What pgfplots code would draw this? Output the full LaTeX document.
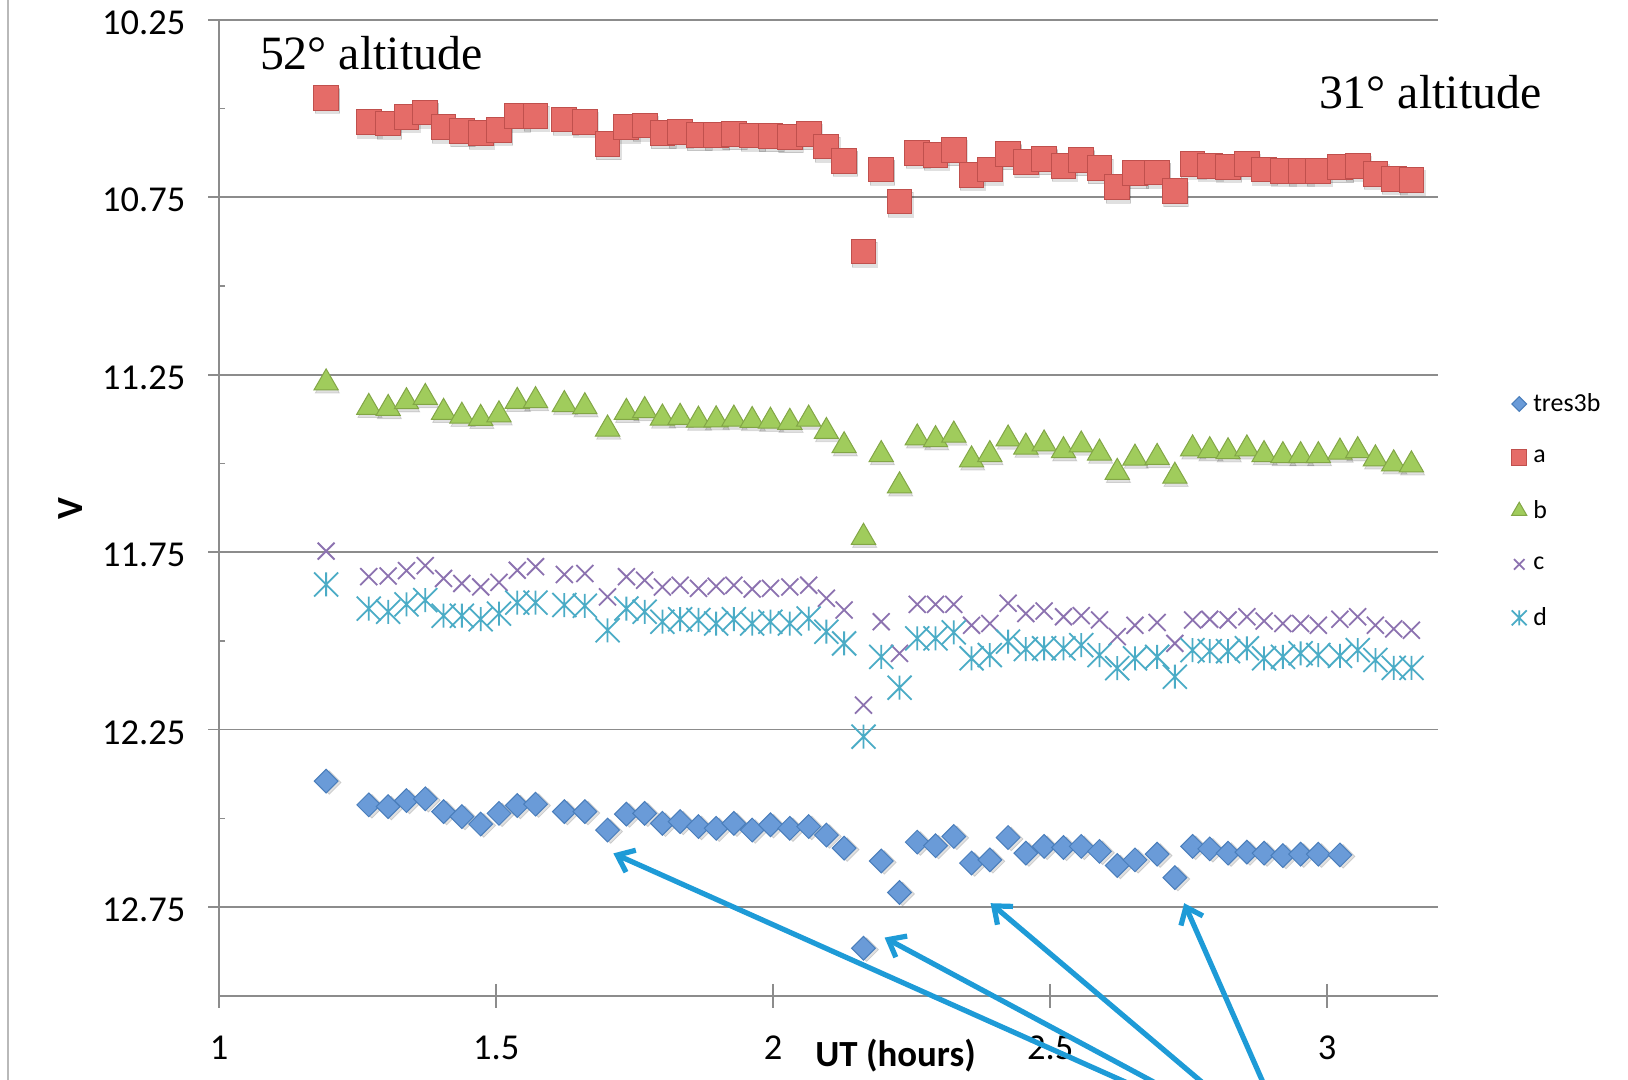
\documentclass[border=0pt]{standalone}
\usepackage{pgfplots}
\pgfplotsset{compat=1.18}
\usepackage{pgfplotstable}
\usepackage{fontspec}
\setmainfont{Carlito}
\newfontfamily\timesfont{Liberation Serif}
\usetikzlibrary{arrows.meta}

\definecolor{gridgray}{RGB}{140,140,140}
\definecolor{tresfill}{RGB}{106,155,216}
\definecolor{tresdraw}{RGB}{74,126,187}
\definecolor{afill}{RGB}{229,108,104}
\definecolor{adraw}{RGB}{192,80,77}
\definecolor{bfill}{RGB}{160,204,92}
\definecolor{bdraw}{RGB}{130,166,70}
\definecolor{cpurple}{RGB}{140,114,176}
\definecolor{dcyan}{RGB}{75,172,198}
\definecolor{arrowblue}{RGB}{30,155,215}

% six-spoke star: a cross with a vertical bar
\pgfdeclareplotmark{xstar}{%
  \pgfpathmoveto{\pgfqpoint{-\pgfplotmarksize}{-\pgfplotmarksize}}%
  \pgfpathlineto{\pgfqpoint{\pgfplotmarksize}{\pgfplotmarksize}}%
  \pgfpathmoveto{\pgfqpoint{-\pgfplotmarksize}{\pgfplotmarksize}}%
  \pgfpathlineto{\pgfqpoint{\pgfplotmarksize}{-\pgfplotmarksize}}%
  \pgfpathmoveto{\pgfqpoint{0pt}{-\pgfplotmarksize}}%
  \pgfpathlineto{\pgfqpoint{0pt}{\pgfplotmarksize}}%
  \pgfusepathqstroke}

% V magnitudes of the target (tres3b) and comparison stars a-d
\pgfplotstableread{
x      tres   a      b      c      d
1.193  12.395 10.470 11.273 11.747 11.841
1.270  12.462 10.539 11.342 11.819 11.909
1.305  12.467 10.542 11.345 11.817 11.918
1.338  12.450 10.523 11.326 11.802 11.897
1.372  12.445 10.511 11.314 11.788 11.885
1.405  12.481 10.553 11.356 11.824 11.929
1.438  12.495 10.564 11.367 11.838 11.929
1.472  12.516 10.570 11.373 11.848 11.939
1.505  12.486 10.560 11.363 11.835 11.923
1.538  12.464 10.522 11.325 11.801 11.892
1.571  12.460 10.520 11.323 11.791 11.892
1.623  12.481 10.531 11.334 11.813 11.899
1.660  12.481 10.537 11.340 11.810 11.901
1.701  12.533 10.600 11.403 11.876 11.970
1.735  12.488 10.553 11.356 11.819 11.909
1.768  12.486 10.548 11.351 11.829 11.918
1.800  12.514 10.569 11.372 11.848 11.946
1.832  12.509 10.567 11.370 11.843 11.939
1.865  12.523 10.575 11.378 11.852 11.941
1.897  12.528 10.574 11.377 11.846 11.951
1.929  12.514 10.572 11.375 11.843 11.939
1.962  12.533 10.576 11.379 11.854 11.951
1.995  12.518 10.578 11.381 11.852 11.946
2.030  12.528 10.581 11.384 11.848 11.951
2.064  12.523 10.572 11.375 11.843 11.937
2.096  12.547 10.607 11.410 11.880 11.974
2.128  12.584 10.647 11.450 11.913 12.007
2.163  12.866 10.903 11.708 12.181 12.270
2.195  12.620 10.672 11.475 11.946 12.045
2.228  12.709 10.762 11.563 12.035 12.132
2.260  12.567 10.625 11.428 11.897 11.993
2.293  12.577 10.630 11.433 11.897 11.993
2.326  12.551 10.617 11.420 11.897 11.976
2.358  12.626 10.687 11.490 11.956 12.049
2.391  12.617 10.672 11.475 11.951 12.040
2.424  12.554 10.628 11.431 11.894 12.002
2.456  12.598 10.651 11.454 11.923 12.023
2.489  12.579 10.642 11.445 11.916 12.021
2.524  12.582 10.661 11.464 11.932 12.021
2.556  12.579 10.645 11.448 11.929 12.012
2.589  12.593 10.668 11.471 11.941 12.040
2.621  12.633 10.722 11.525 11.988 12.077
2.653  12.617 10.682 11.485 11.956 12.049
2.693  12.601 10.680 11.483 11.948 12.045
2.725  12.667 10.733 11.536 12.007 12.101
2.757  12.579 10.656 11.459 11.941 12.026
2.788  12.586 10.661 11.464 11.939 12.029
2.821  12.598 10.664 11.467 11.941 12.029
2.855  12.595 10.656 11.459 11.932 12.021
2.886  12.598 10.672 11.475 11.944 12.049
2.920  12.605 10.675 11.478 11.951 12.045
2.952  12.601 10.675 11.478 11.951 12.035
2.984  12.601 10.675 11.478 11.956 12.040
3.023  12.603 10.665 11.468 11.939 12.042
3.055  nan    10.661 11.464 11.932 12.026
3.087  nan    10.684 11.487 11.956 12.054
3.120  nan    10.698 11.501 11.966 12.076
3.152  nan    10.701 11.504 11.970 12.076
}\magdata

\begin{document}
\begin{tikzpicture}
\clip (0,0) rectangle (814bp,540bp);
\fill[white] (0,0) rectangle (814bp,540bp);
\draw[gray!55, line width=0.8bp] (4bp,0) -- (4bp,540bp);

\begin{axis}[
  at={(109.6bp,42.1bp)}, anchor=south west,
  scale only axis, width=609.4bp, height=488bp,
  xmin=1, xmax=3.2, ymin=10.25, ymax=13, y dir=reverse,
  clip=false,
  axis line style={draw=none},
  xtick={1,1.5,2,2.5,3}, xticklabels={1,1.5,2,2.5,3},
  ytick={10.25,10.75,11.25,11.75,12.25,12.75},
  yticklabels={10.25,10.75,11.25,11.75,12.25,12.75},
  ytick pos=left,
  ymajorgrids, major grid style={gridgray, line width=0.8bp},
  tick align=outside, major tick length=5.4bp,
  xtick style={draw=none},
  ytick style={gridgray, line width=0.8bp},
  ticklabel style={font=\fontsize{18.3}{21}\selectfont},
  yticklabel style={xshift=-8bp, yshift=-1.5bp},
  xticklabel style={yshift=-11bp},
  legend style={at={(1.06,0.62)}, anchor=north west, draw=none, fill=none,
    font=\fontsize{13}{15}\selectfont, row sep=15.2bp, column sep=2bp,
    inner sep=0pt, nodes={inner sep=1.2bp}},
  legend cell align=left,
  legend image code/.code={\draw[#1,/tikz/every mark/.append style={scale=0.62}] plot coordinates {(0.1cm,0cm)};},
]
% axis lines, x ticks and inner minor ticks
\draw[gridgray, line width=0.8bp] (axis cs:1,10.25) -- (axis cs:1,13);
\draw[gridgray, line width=0.8bp] (axis cs:1,13) -- (axis cs:3.2,13);
\pgfplotsinvokeforeach{1,1.5,2,2.5,3}{%
  \draw[gridgray, line width=0.8bp] ([yshift=6bp]axis cs:#1,13) -- ([yshift=-6bp]axis cs:#1,13);}
\pgfplotsinvokeforeach{10.5,11,11.5,12,12.5}{%
  \draw[gridgray, line width=0.8bp] (axis cs:1,#1) -- ([xshift=3bp]axis cs:1,#1);}

% soft drop shadows under the filled markers
\addplot[forget plot, only marks, mark=square*, mark size=4.2bp,
  mark options={rotate=45, fill=black, draw=none, opacity=0.12, xshift=0.6bp, yshift=-1.6bp}]
  table[x=x, y=tres] {\magdata};
\addplot[forget plot, only marks, mark=square*, mark size=6.2bp,
  mark options={fill=black, draw=none, opacity=0.12, xshift=0.6bp, yshift=-1.6bp}]
  table[x=x, y=a] {\magdata};
\addplot[forget plot, only marks, mark=triangle*, mark size=7bp,
  mark options={fill=black, draw=none, opacity=0.12, xshift=0.6bp, yshift=-1.6bp}]
  table[x=x, y=b] {\magdata};

\addplot[only marks, mark=square*, mark size=4.2bp,
  mark options={rotate=45, fill=tresfill, draw=tresdraw, line width=0.5bp}]
  table[x=x, y=tres] {\magdata};
\addlegendentry{tres3b}
\addplot[only marks, mark=square*, mark size=6.2bp,
  mark options={fill=afill, draw=adraw, line width=0.5bp}]
  table[x=x, y=a] {\magdata};
\addlegendentry{a}
\addplot[only marks, mark=triangle*, mark size=7bp,
  mark options={fill=bfill, draw=bdraw, line width=0.5bp}]
  table[x=x, y=b] {\magdata};
\addlegendentry{b}
\addplot[only marks, mark=x, mark size=6bp,
  mark options={draw=cpurple, line width=0.9bp}]
  table[x=x, y=c] {\magdata};
\addlegendentry{c}
\addplot[only marks, mark=xstar, mark size=6bp,
  mark options={draw=dcyan, line width=0.9bp}]
  table[x=x, y=d] {\magdata};
\addlegendentry{d}
\end{axis}

\node[anchor=base west, inner sep=0, font=\timesfont\fontsize{24}{28}\selectfont]
  at (129.8bp,505.2bp) {52° altitude};
\node[anchor=base west, inner sep=0, font=\timesfont\fontsize{24}{28}\selectfont]
  at (659.3bp,485.5bp) {31° altitude};
\node[anchor=west, inner sep=0, font=\bfseries\fontsize{18.5}{21}\selectfont]
  at (407.5bp,12bp) {UT (hours)};
\node[rotate=90, inner sep=0, font=\bfseries\fontsize{18.5}{21}\selectfont]
  at (35.3bp,285.6bp) {V};

% pointers to the dips in the target light curve
\begin{scope}[arrowblue, line width=2.6bp, -{Straight Barb[length=7.5bp,width=12bp]}]
  \draw (611bp,-22.6bp) -- (306.7bp,113.3bp);
  \draw (614.8bp,-21.4bp) -- (442.3bp,71.2bp);
  \draw (625.8bp,-22.1bp) -- (495.3bp,88.4bp);
  \draw (640.7bp,-22.1bp) -- (592.1bp,88.4bp);
\end{scope}
\end{tikzpicture}
\end{document}
